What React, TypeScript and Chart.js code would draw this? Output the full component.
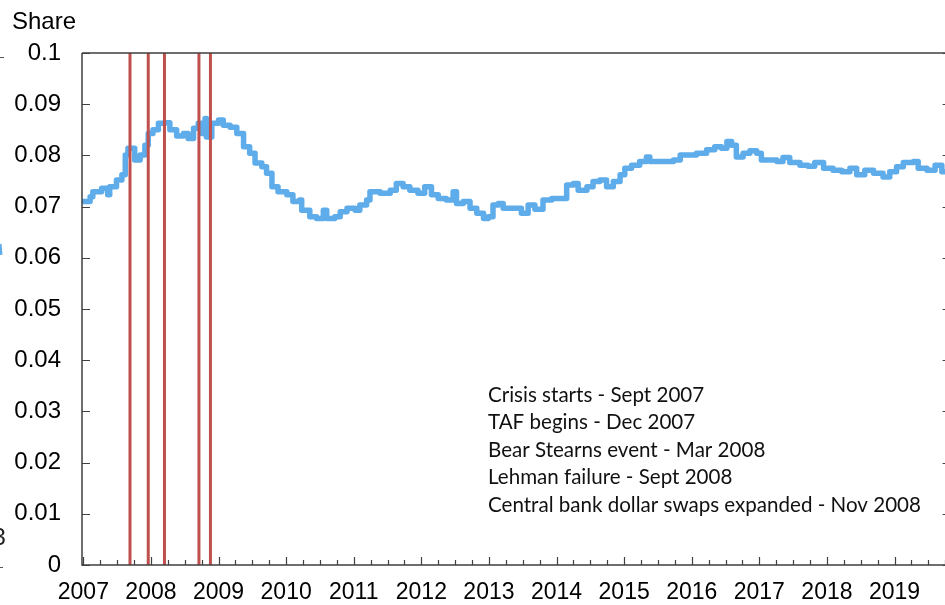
import React, { useEffect, useRef } from 'react';
import { Chart, registerables } from 'chart.js';

Chart.register(...registerables);

// ---- data ----
const YEARS = [2007, 2008, 2009, 2010, 2011, 2012, 2013, 2014, 2015, 2016, 2017, 2018, 2019];
const Y_TICKS = [0, 0.01, 0.02, 0.03, 0.04, 0.05, 0.06, 0.07, 0.08, 0.09, 0.1];

const DATES = [
  2007.00, 2007.10, 2007.14, 2007.27, 2007.36, 2007.39, 2007.49, 2007.57, 2007.62, 2007.66,
  2007.76, 2007.84, 2007.91, 2007.96, 2008.03, 2008.11, 2008.21, 2008.28, 2008.38, 2008.48,
  2008.55, 2008.63, 2008.70, 2008.75, 2008.80, 2008.82, 2008.90, 2009.00, 2009.07, 2009.17,
  2009.27, 2009.37, 2009.46, 2009.54, 2009.64, 2009.71, 2009.79, 2009.88, 2010.01, 2010.10,
  2010.20, 2010.23, 2010.35, 2010.45, 2010.55, 2010.60, 2010.72, 2010.80, 2010.90, 2011.02,
  2011.09, 2011.19, 2011.24, 2011.39, 2011.54, 2011.63, 2011.73, 2011.83, 2011.95, 2012.05,
  2012.15, 2012.25, 2012.37, 2012.47, 2012.52, 2012.62, 2012.72, 2012.82, 2012.92, 2012.99,
  2013.06, 2013.14, 2013.21, 2013.36, 2013.48, 2013.58, 2013.68, 2013.80, 2013.93, 2014.05,
  2014.15, 2014.25, 2014.32, 2014.45, 2014.54, 2014.64, 2014.74, 2014.84, 2014.94, 2015.01,
  2015.11, 2015.23, 2015.33, 2015.38, 2015.58, 2015.73, 2015.83, 2015.92, 2016.07, 2016.22,
  2016.34, 2016.44, 2016.52, 2016.59, 2016.66, 2016.76, 2016.86, 2016.96, 2017.03, 2017.16,
  2017.26, 2017.35, 2017.45, 2017.60, 2017.72, 2017.82, 2017.95, 2018.09, 2018.22, 2018.34,
  2018.44, 2018.56, 2018.69, 2018.83, 2018.93, 2019.03, 2019.13, 2019.28, 2019.35, 2019.48,
  2019.60, 2019.70, 2019.80,
];

const SHARE = [
  0.0710, 0.0719, 0.0729, 0.0736, 0.0723, 0.0739, 0.0752, 0.0762, 0.0801, 0.0814,
  0.0791, 0.0801, 0.0820, 0.0843, 0.0850, 0.0863, 0.0864, 0.0850, 0.0838, 0.0843,
  0.0833, 0.0853, 0.0863, 0.0843, 0.0872, 0.0836, 0.0863, 0.0869, 0.0859, 0.0855,
  0.0843, 0.0817, 0.0804, 0.0785, 0.0778, 0.0765, 0.0739, 0.0729, 0.0723, 0.0710,
  0.0713, 0.0693, 0.0680, 0.0677, 0.0693, 0.0677, 0.0680, 0.0690, 0.0697, 0.0693,
  0.0703, 0.0713, 0.0729, 0.0726, 0.0732, 0.0745, 0.0739, 0.0732, 0.0726, 0.0739,
  0.0723, 0.0716, 0.0713, 0.0729, 0.0706, 0.0710, 0.0697, 0.0687, 0.0677, 0.0680,
  0.0703, 0.0706, 0.0697, 0.0697, 0.0687, 0.0703, 0.0695, 0.0713, 0.0716, 0.0716,
  0.0742, 0.0745, 0.0732, 0.0739, 0.0749, 0.0752, 0.0739, 0.0749, 0.0762, 0.0775,
  0.0781, 0.0788, 0.0797, 0.0788, 0.0788, 0.0791, 0.0801, 0.0801, 0.0804, 0.0811,
  0.0817, 0.0814, 0.0827, 0.0820, 0.0797, 0.0804, 0.0809, 0.0804, 0.0791, 0.0791,
  0.0788, 0.0796, 0.0786, 0.0781, 0.0779, 0.0786, 0.0775, 0.0771, 0.0768, 0.0775,
  0.0762, 0.0771, 0.0765, 0.0758, 0.0768, 0.0778, 0.0786, 0.0788, 0.0775, 0.0771,
  0.0781, 0.0768, 0.0765,
];

const EVENT_DATES = [2007.69, 2007.96, 2008.20, 2008.71, 2008.88];
const EVENT_NOTES = [
  'Crisis starts - Sept 2007',
  'TAF begins - Dec 2007',
  'Bear Stearns event - Mar 2008',
  'Lehman failure - Sept 2008',
  'Central bank dollar swaps expanded - Nov 2008',
];

const X_MIN = 2006.98;
const X_MAX = 2019.8;
const AXIS_FONT = '"Liberation Sans", Arial, sans-serif';

const framePlugin = {
  id: 'frame',
  afterDraw(chart: any) {
    const { ctx, chartArea: a, scales } = chart;
    const x = scales.x;
    const y = scales.y;
    ctx.save();
    ctx.strokeStyle = '#3f3f3f';
    ctx.lineWidth = 1.5;
    ctx.beginPath();
    ctx.moveTo(a.left, a.top);
    ctx.lineTo(a.right, a.top);
    ctx.moveTo(a.left, a.top);
    ctx.lineTo(a.left, a.bottom);
    ctx.lineTo(a.right, a.bottom);
    ctx.stroke();

    ctx.lineWidth = 1.2;
    ctx.beginPath();
    for (const v of Y_TICKS) {
      const py = Math.round(y.getPixelForValue(v)) + 0.5;
      ctx.moveTo(a.left, py);
      ctx.lineTo(a.left + 8, py);
      ctx.moveTo(a.right - 6, py);
      ctx.lineTo(a.right, py);
    }
    for (const yr of YEARS) {
      for (let q = 0; q < 4; q++) {
        const v = yr + q / 4;
        if (v > X_MAX) continue;
        const px = Math.round(x.getPixelForValue(v)) + 0.5;
        ctx.moveTo(px, a.bottom);
        ctx.lineTo(px, a.bottom - (q === 0 ? 8 : 5));
      }
    }
    ctx.stroke();

    // "Share" unit label
    ctx.fillStyle = '#000';
    ctx.font = `24px ${AXIS_FONT}`;
    ctx.textAlign = 'left';
    ctx.textBaseline = 'alphabetic';
    ctx.fillText('Share', 12, 29);

    // event notes
    const family = 'Lato, "Open Sans", sans-serif';
    ctx.font = `20px ${family}`;
    const w = ctx.measureText(EVENT_NOTES[EVENT_NOTES.length - 1]).width;
    const size = (20 * 433) / w;
    ctx.font = `${size.toFixed(2)}px ${family}`;
    ctx.fillStyle = '#111';
    EVENT_NOTES.forEach((t, i) => {
      ctx.fillText(t, 488, 401.5 + i * 27.5);
    });

    // fragments of neighbouring panel at the left edge
    ctx.strokeStyle = '#555';
    ctx.lineWidth = 1.2;
    ctx.beginPath();
    ctx.moveTo(0, 57.5);
    ctx.lineTo(4, 57.5);
    ctx.moveTo(0, 567.5);
    ctx.lineTo(3, 567.5);
    ctx.stroke();
    ctx.fillStyle = '#222';
    ctx.font = `24px ${AXIS_FONT}`;
    ctx.fillText('3', -7.5, 545);
    ctx.strokeStyle = '#5eacea';
    ctx.lineWidth = 3;
    ctx.beginPath();
    ctx.moveTo(0, 244);
    ctx.lineTo(1, 255);
    ctx.stroke();
    ctx.restore();
  },
};

export default function App() {
  const ref = useRef<HTMLCanvasElement | null>(null);

  useEffect(() => {
    document.body.style.margin = '0';
    const canvas = ref.current;
    if (!canvas) return;
    const main = {
      data: DATES.map((d, i) => ({ x: d, y: SHARE[i] })),
      borderColor: '#5eacea',
      borderWidth: 5.5,
      borderJoinStyle: 'round',
      borderCapStyle: 'round',
      pointRadius: 0,
      stepped: true,
      fill: false,
      order: 2,
    };
    const events = EVENT_DATES.map((d) => ({
      data: [
        { x: d, y: 0 },
        { x: d, y: 0.1 },
      ],
      borderColor: '#c0504d',
      borderWidth: 3,
      pointRadius: 0,
      fill: false,
      order: 1,
    }));
    const chart = new Chart(canvas, {
      type: 'line',
      data: { datasets: [main, ...events] as any },
      options: {
        animation: false,
        responsive: false,
        devicePixelRatio: 1,
        events: [],
        layout: { padding: { top: 53, left: 0, right: 960 - 948.6, bottom: 0 } },
        plugins: { legend: { display: false }, tooltip: { enabled: false } },
        scales: {
          x: {
            type: 'linear',
            min: X_MIN,
            max: X_MAX,
            grid: { display: false, drawTicks: false },
            border: { display: false },
            afterBuildTicks: (s: any) => {
              s.ticks = YEARS.map((v) => ({ value: v }));
            },
            afterFit: (s: any) => {
              s.height = 40;
            },
            ticks: {
              autoSkip: false,
              maxRotation: 0,
              padding: 14,
              color: '#000',
              font: { family: AXIS_FONT, size: 23 },
              callback: (v: any) => String(v),
            },
          },
          y: {
            type: 'linear',
            min: 0,
            max: 0.1,
            grid: { display: false, drawTicks: false },
            border: { display: false },
            afterBuildTicks: (s: any) => {
              s.ticks = Y_TICKS.map((v) => ({ value: v }));
            },
            afterFit: (s: any) => {
              s.width = 82;
            },
            ticks: {
              padding: 21,
              color: '#000',
              font: { family: AXIS_FONT, size: 24 },
              callback: (v: any) => String(Number(Number(v).toFixed(2))),
            },
          },
        },
      },
      plugins: [framePlugin],
    });
    return () => chart.destroy();
  }, []);

  return (
    <div
      style={{
        position: 'fixed',
        left: 0,
        top: 0,
        width: 945,
        height: 605,
        overflow: 'hidden',
        background: '#fff',
      }}
    >
      <canvas ref={ref} width={960} height={605} style={{ display: 'block' }} />
    </div>
  );
}
